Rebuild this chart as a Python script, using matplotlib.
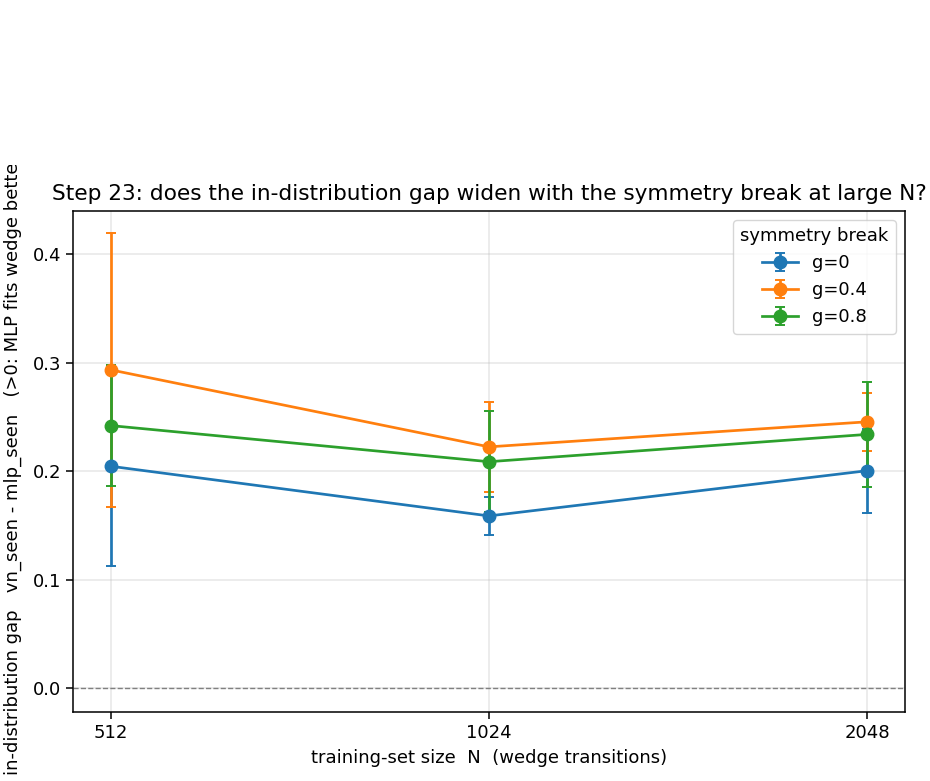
import numpy as np
import matplotlib
matplotlib.use("Agg")
import matplotlib.pyplot as plt
from matplotlib.transforms import Bbox

# training-set sizes (log2 axis)
N = [512, 1024, 2048]
labels = ["g=0", "g=0.4", "g=0.8"]
colors = ["#1f77b4", "#ff7f0e", "#2ca02c"]

# mean in-distribution gap per symmetry break
gap_g0 = [0.2046, 0.1588, 0.2005]
gap_g04 = [0.2935, 0.2225, 0.2456]
gap_g08 = [0.2421, 0.2088, 0.2340]

# error bar half-widths
err_g0 = [0.0922, 0.0173, 0.0388]
err_g04 = [0.1262, 0.0418, 0.0268]
err_g08 = [0.0556, 0.0467, 0.0483]

means = [gap_g0, gap_g04, gap_g08]
errs = [err_g0, err_g04, err_g08]

fig = plt.figure(figsize=(9.3, 7.81), dpi=100)
ax = fig.add_axes([0.0785, 0.0884, 0.8945, 0.6414])

for m, e, lab, c in zip(means, errs, labels, colors):
    ax.errorbar(N, m, yerr=e, marker="o", ms=9, lw=1.95, capsize=3.8,
                elinewidth=1.95, capthick=1.4, color=c, label=lab)

ax.axhline(0, color="grey", ls="--", lw=1.0)
ax.set_xscale("log", base=2)
ax.set_xticks(N)
ax.set_xticklabels([str(n) for n in N])
ax.minorticks_off()
ax.set_ylim(-0.022, 0.44)
ax.tick_params(labelsize=13, length=5, width=1.1)
ax.grid(True, alpha=0.3, lw=1.1)
for s in ax.spines.values():
    s.set_linewidth(1.1)

ax.set_xlabel("training-set size  N  (wedge transitions)", fontsize=13, labelpad=5)
ylab = ax.set_ylabel("in-distribution gap   vn_seen - mlp_seen   (>0: MLP fits wedge better)",
                     fontsize=13, labelpad=8)
# the reference cuts the label off near the top
ylab.set_clip_box(Bbox([[0, 0], [930, 781 - 164.5]]))
ylab.set_clip_on(True)
ax.set_title("Step 23: does the in-distribution gap widen with the symmetry break at large N?",
             fontsize=15.6, pad=8)
ax.legend(title="symmetry break", fontsize=13, title_fontsize=13, loc="upper right")

fig.savefig("out.png", dpi=100)
